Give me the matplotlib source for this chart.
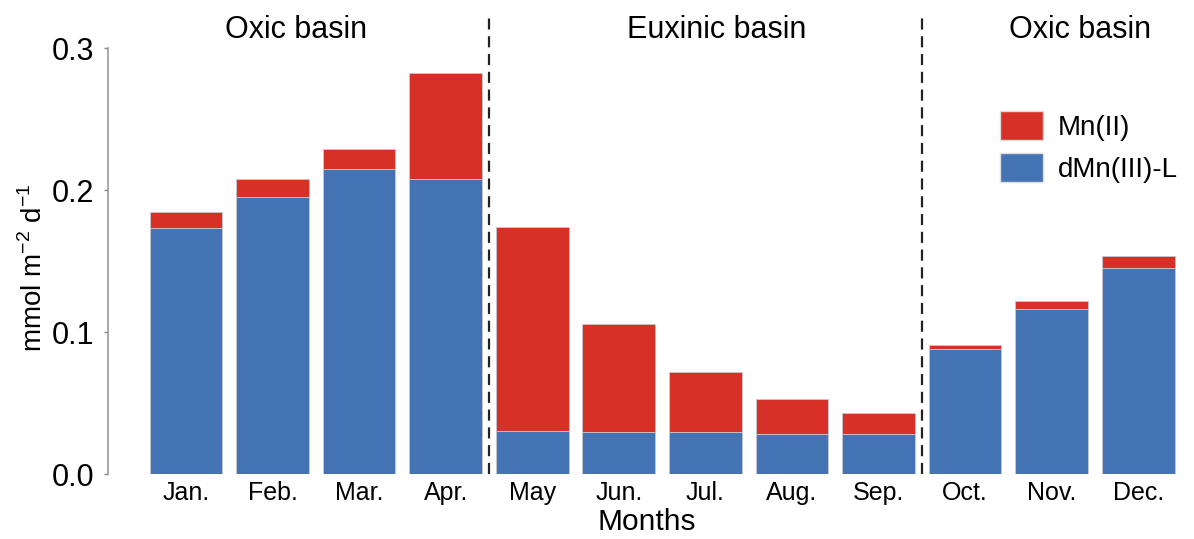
import matplotlib
matplotlib.use("Agg")
import matplotlib.pyplot as plt
from matplotlib.patches import Patch
import matplotlib.transforms as mtransforms

plt.rcParams['font.family'] = ['Liberation Sans', 'DejaVu Sans']
plt.rcParams['mathtext.fontset'] = 'custom'
plt.rcParams['mathtext.rm'] = 'Liberation Sans'

months = ['Jan.', 'Feb.', 'Mar.', 'Apr.', 'May', 'Jun.', 'Jul.', 'Aug.', 'Sep.',
          'Oct.', 'Nov.', 'Dec.']
# Stacked totals: dMn(III)-L at the bottom, Mn(II) on top
dmn3_l = [0.1735, 0.1948, 0.2146, 0.2075, 0.0305, 0.0298, 0.0293, 0.0280, 0.0280,
          0.0878, 0.1164, 0.1449]
mn2 = [0.0112, 0.0132, 0.0143, 0.0751, 0.1437, 0.0760, 0.0427, 0.0248, 0.0152,
       0.0030, 0.0056, 0.0088]
y_ticks = [0.0, 0.1, 0.2, 0.3]
basins = ['Oxic basin', 'Euxinic basin', 'Oxic basin']
basin_centers = [1.27, 6.13, 10.33]
basin_edges = [3.5, 8.5]

blue = '#4473B4'
red = '#D63027'

fig = plt.figure(figsize=(11.94, 5.39), dpi=100)
ax = fig.add_axes([108 / 1194, 1 - 474 / 539, (1185 - 108) / 1194, (474 - 48) / 539])

x = list(range(len(months)))
ax.bar(x, dmn3_l, width=0.84, color=blue, edgecolor='#c8c8d0', linewidth=0.6,
       label='dMn(III)-L', zorder=2)
ax.bar(x, mn2, bottom=dmn3_l, width=0.84, color=red, edgecolor='#c8c8d0',
       linewidth=0.6, label='Mn(II)', zorder=2)

ax.set_xlim(-0.9, 11.54)
ax.set_ylim(0, 0.3)
ax.set_yticks(y_ticks)
ax.set_yticklabels([f'{v:.1f}' for v in y_ticks], fontsize=22)
ax.set_xticks(x)
ax.set_xticklabels(months, fontsize=18)
ax.tick_params(axis='x', length=0, pad=5)
ax.tick_params(axis='y', length=3, width=1, color='#888888', pad=7)

for side in ['top', 'right', 'bottom']:
    ax.spines[side].set_visible(False)
ax.spines['left'].set_color('#999999')
ax.spines['left'].set_linewidth(1.2)
ax.spines['left'].set_bounds(0, 0.3)

ax.set_xlabel('Months', fontsize=21.5, labelpad=2)
ax.set_ylabel(r'mmol m$^{\mathregular{-2}}$ d$^{\mathregular{-1}}$', fontsize=20,
              labelpad=6)
ax.yaxis.set_label_coords(-0.056, 0.485)

trans = mtransforms.blended_transform_factory(ax.transData, ax.transAxes)
top = (474 - 15) / (474 - 48)
for xe in basin_edges:
    ax.plot([xe, xe], [0, top], transform=trans, color='#222222', lw=1.6,
            ls=(0, (5, 3)), clip_on=False, zorder=3)

title_y = (474 - 30) / (474 - 48)
for name, xc in zip(basins, basin_centers):
    ax.text(xc, title_y, name, transform=trans, ha='center', va='center',
            fontsize=22)

handles = [Patch(facecolor=red, edgecolor='#dddddd'),
           Patch(facecolor=blue, edgecolor='#dddddd')]
ax.legend(handles, ['Mn(II)', 'dMn(III)-L'], loc='upper left',
          bbox_to_anchor=((994 - 108) / (1185 - 108), (474 - 105) / (474 - 48)),
          frameon=False, fontsize=20, handlelength=1.55, handleheight=1.26,
          labelspacing=0.43, handletextpad=0.54, borderpad=0.2, borderaxespad=0)

fig.savefig('out.png', dpi=100)
